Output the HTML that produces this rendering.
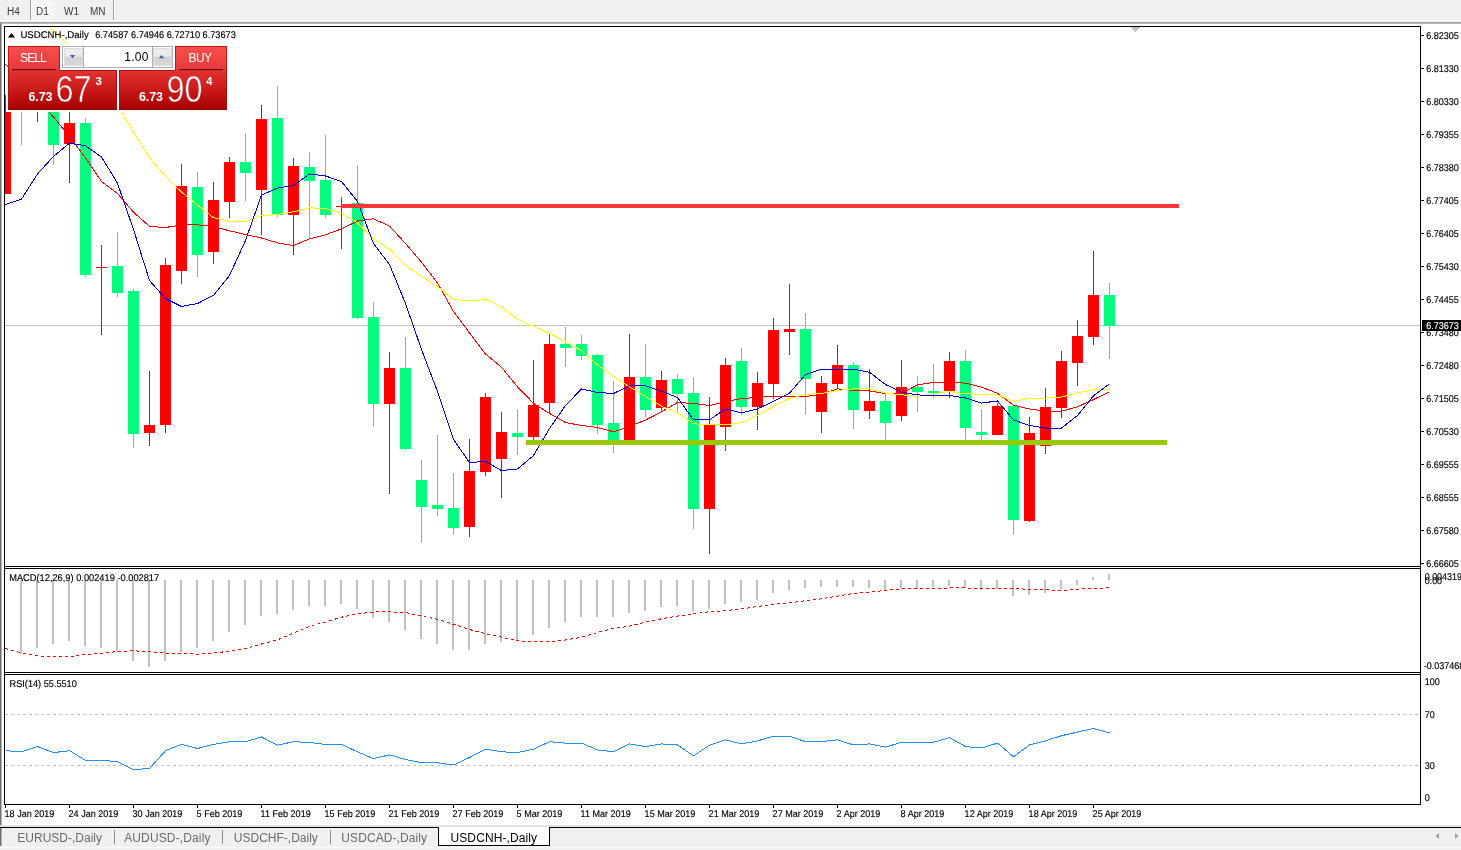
<!DOCTYPE html>
<html lang="en"><head><meta charset="utf-8"><title>USDCNH-,Daily</title>
<style>
html,body{margin:0;padding:0;background:#fff;}
body{width:1461px;height:850px;position:relative;overflow:hidden;font-family:"Liberation Sans",sans-serif;color:#000;}
.abs{position:absolute;}
#tb{left:0;top:0;width:1461px;height:22px;background:#f0f0f0;}
.tbt{position:absolute;top:5px;font-size:10px;color:#3a3a3a;line-height:13px;}
#chart{left:0;top:0;}
svg text{font-family:"Liberation Sans",sans-serif;}
.ax{font-size:9.8px;text-rendering:geometricPrecision;fill:#000;stroke:#000;stroke-width:0.15px;}
.tab{position:absolute;top:831px;font-size:12px;line-height:14px;color:#6a6a6a;white-space:nowrap;}
.sep{position:absolute;top:830px;width:1px;height:14px;background:#8c8c8c;}
/* one click panel */
#oc{left:8px;top:46px;width:219px;height:64px;background:#fff;}
.btn{position:absolute;background:linear-gradient(#f94e4e,#e53a3a);border:1px solid #c41414;border-bottom:none;box-sizing:border-box;color:#fff;font-size:12px;text-align:center;}
.big{position:absolute;top:24px;height:40px;background:linear-gradient(#e23232,#cc1c1c 45%,#b40808 85%,#aa0000);border:1px solid #b00c0c;border-top:none;border-bottom-color:#960000;box-sizing:border-box;color:#fff;}
.big span{position:absolute;white-space:nowrap;}
</style></head><body>

<div id="tb" class="abs">
<div class="abs" style="left:31px;top:0;width:24px;height:20px;background:#f0f0f0 conic-gradient(#fff 25%,#f0f0f0 0 50%,#fff 0 75%,#f0f0f0 0) 0 0/2px 2px;"></div>
<div class="abs" style="left:30px;top:0;width:1px;height:20px;background:#a0a0a0;"></div>
<div class="abs" style="left:113px;top:0;width:1px;height:22px;background:#a0a0a0;"></div>
<div class="abs" style="left:114px;top:0;width:1px;height:22px;background:#fff;"></div>
<div class="tbt" style="left:7px;">H4</div>
<div class="tbt" style="left:36px;">D1</div>
<div class="tbt" style="left:64px;">W1</div>
<div class="tbt" style="left:90px;">MN</div>
<div class="abs" style="left:0;top:20px;width:1461px;height:2px;background:#f6f6f6;"></div>
</div>
<div class="abs" style="left:0;top:22px;width:1461px;height:1px;background:#a0a0a0;"></div>
<div class="abs" style="left:0;top:23px;width:1461px;height:1px;background:#bcbcbc;"></div>
<div class="abs" style="left:0;top:23px;width:1px;height:803px;background:#6e6e6e;"></div>
<div class="abs" style="left:1px;top:23px;width:1px;height:803px;background:#b4b4b4;"></div>
<svg id="chart" class="abs" width="1461" height="850" viewBox="0 0 1461 850" shape-rendering="crispEdges">
<defs><clipPath id="cm"><rect x="5" y="27" width="1415" height="539"/></clipPath></defs>
<rect x="4" y="26" width="1417" height="1" fill="#000"/>
<rect x="4" y="26" width="1" height="779" fill="#000"/>
<rect x="1420" y="26" width="1" height="779" fill="#000"/>
<rect x="4" y="804" width="1417" height="1" fill="#000"/>
<rect x="4" y="566" width="1417" height="1" fill="#000"/>
<rect x="4" y="568" width="1417" height="1" fill="#000"/>
<rect x="4" y="672" width="1417" height="1" fill="#000"/>
<rect x="4" y="674" width="1417" height="1" fill="#000"/>
<rect x="5" y="325" width="1415" height="1" fill="#c0c0c0"/>
<g clip-path="url(#cm)">
<rect x="5" y="95" width="1" height="99" fill="#ff0000"/>
<rect x="0" y="112" width="11" height="82" fill="#ff0000"/>
<rect x="21" y="70" width="1" height="75" fill="#00ff7f"/>
<rect x="16" y="80" width="11" height="25" fill="#00ff7f"/>
<rect x="37" y="75" width="1" height="47" fill="#ff0000"/>
<rect x="32" y="85" width="11" height="23" fill="#ff0000"/>
<rect x="53" y="60" width="1" height="105" fill="#00ff7f"/>
<rect x="48" y="90" width="11" height="55" fill="#00ff7f"/>
<rect x="69" y="100" width="1" height="83" fill="#ff0000"/>
<rect x="64" y="123" width="11" height="21" fill="#ff0000"/>
<rect x="85" y="118" width="1" height="159" fill="#00ff7f"/>
<rect x="80" y="123" width="11" height="152" fill="#00ff7f"/>
<rect x="101" y="245" width="1" height="90" fill="#ff0000"/>
<rect x="96" y="267" width="11" height="1" fill="#ff0000"/>
<rect x="117" y="232" width="1" height="65" fill="#00ff7f"/>
<rect x="112" y="266" width="11" height="27" fill="#00ff7f"/>
<rect x="133" y="289" width="1" height="159" fill="#00ff7f"/>
<rect x="128" y="291" width="11" height="143" fill="#00ff7f"/>
<rect x="149" y="371" width="1" height="75" fill="#ff0000"/>
<rect x="144" y="425" width="11" height="8" fill="#ff0000"/>
<rect x="165" y="258" width="1" height="175" fill="#ff0000"/>
<rect x="160" y="265" width="11" height="160" fill="#ff0000"/>
<rect x="181" y="164" width="1" height="120" fill="#ff0000"/>
<rect x="176" y="186" width="11" height="85" fill="#ff0000"/>
<rect x="197" y="172" width="1" height="105" fill="#00ff7f"/>
<rect x="192" y="187" width="11" height="68" fill="#00ff7f"/>
<rect x="213" y="182" width="1" height="82" fill="#ff0000"/>
<rect x="208" y="200" width="11" height="52" fill="#ff0000"/>
<rect x="229" y="157" width="1" height="61" fill="#ff0000"/>
<rect x="224" y="162" width="11" height="40" fill="#ff0000"/>
<rect x="245" y="133" width="1" height="68" fill="#00ff7f"/>
<rect x="240" y="162" width="11" height="11" fill="#00ff7f"/>
<rect x="261" y="105" width="1" height="130" fill="#ff0000"/>
<rect x="256" y="119" width="11" height="71" fill="#ff0000"/>
<rect x="277" y="86" width="1" height="131" fill="#00ff7f"/>
<rect x="272" y="118" width="11" height="97" fill="#00ff7f"/>
<rect x="293" y="158" width="1" height="97" fill="#ff0000"/>
<rect x="288" y="166" width="11" height="49" fill="#ff0000"/>
<rect x="309" y="152" width="1" height="87" fill="#00ff7f"/>
<rect x="304" y="167" width="11" height="14" fill="#00ff7f"/>
<rect x="325" y="135" width="1" height="83" fill="#00ff7f"/>
<rect x="320" y="180" width="11" height="35" fill="#00ff7f"/>
<rect x="341" y="197" width="1" height="52" fill="#ff0000"/>
<rect x="336" y="206" width="11" height="1" fill="#ff0000"/>
<rect x="357" y="165" width="1" height="154" fill="#00ff7f"/>
<rect x="352" y="203" width="11" height="115" fill="#00ff7f"/>
<rect x="373" y="302" width="1" height="125" fill="#00ff7f"/>
<rect x="368" y="317" width="11" height="87" fill="#00ff7f"/>
<rect x="389" y="352" width="1" height="142" fill="#ff0000"/>
<rect x="384" y="368" width="11" height="36" fill="#ff0000"/>
<rect x="405" y="337" width="1" height="113" fill="#00ff7f"/>
<rect x="400" y="368" width="11" height="81" fill="#00ff7f"/>
<rect x="421" y="460" width="1" height="82" fill="#00ff7f"/>
<rect x="416" y="480" width="11" height="27" fill="#00ff7f"/>
<rect x="437" y="435" width="1" height="81" fill="#00ff7f"/>
<rect x="432" y="505" width="11" height="4" fill="#00ff7f"/>
<rect x="453" y="473" width="1" height="61" fill="#00ff7f"/>
<rect x="448" y="508" width="11" height="20" fill="#00ff7f"/>
<rect x="469" y="439" width="1" height="98" fill="#ff0000"/>
<rect x="464" y="471" width="11" height="56" fill="#ff0000"/>
<rect x="485" y="393" width="1" height="83" fill="#ff0000"/>
<rect x="480" y="397" width="11" height="75" fill="#ff0000"/>
<rect x="501" y="412" width="1" height="86" fill="#ff0000"/>
<rect x="496" y="432" width="11" height="27" fill="#ff0000"/>
<rect x="517" y="410" width="1" height="45" fill="#00ff7f"/>
<rect x="512" y="433" width="11" height="4" fill="#00ff7f"/>
<rect x="533" y="360" width="1" height="81" fill="#ff0000"/>
<rect x="528" y="405" width="11" height="32" fill="#ff0000"/>
<rect x="549" y="334" width="1" height="80" fill="#ff0000"/>
<rect x="544" y="344" width="11" height="59" fill="#ff0000"/>
<rect x="565" y="327" width="1" height="40" fill="#00ff7f"/>
<rect x="560" y="344" width="11" height="4" fill="#00ff7f"/>
<rect x="581" y="335" width="1" height="25" fill="#00ff7f"/>
<rect x="576" y="344" width="11" height="12" fill="#00ff7f"/>
<rect x="597" y="354" width="1" height="80" fill="#00ff7f"/>
<rect x="592" y="355" width="11" height="70" fill="#00ff7f"/>
<rect x="613" y="381" width="1" height="72" fill="#00ff7f"/>
<rect x="608" y="423" width="11" height="19" fill="#00ff7f"/>
<rect x="629" y="334" width="1" height="107" fill="#ff0000"/>
<rect x="624" y="377" width="11" height="64" fill="#ff0000"/>
<rect x="645" y="344" width="1" height="73" fill="#00ff7f"/>
<rect x="640" y="377" width="11" height="33" fill="#00ff7f"/>
<rect x="661" y="371" width="1" height="41" fill="#ff0000"/>
<rect x="656" y="380" width="11" height="28" fill="#ff0000"/>
<rect x="677" y="374" width="1" height="38" fill="#00ff7f"/>
<rect x="672" y="379" width="11" height="15" fill="#00ff7f"/>
<rect x="693" y="378" width="1" height="151" fill="#00ff7f"/>
<rect x="688" y="393" width="11" height="116" fill="#00ff7f"/>
<rect x="709" y="397" width="1" height="157" fill="#ff0000"/>
<rect x="704" y="424" width="11" height="85" fill="#ff0000"/>
<rect x="725" y="358" width="1" height="93" fill="#ff0000"/>
<rect x="720" y="365" width="11" height="62" fill="#ff0000"/>
<rect x="741" y="348" width="1" height="67" fill="#00ff7f"/>
<rect x="736" y="361" width="11" height="46" fill="#00ff7f"/>
<rect x="757" y="372" width="1" height="58" fill="#ff0000"/>
<rect x="752" y="383" width="11" height="24" fill="#ff0000"/>
<rect x="773" y="318" width="1" height="81" fill="#ff0000"/>
<rect x="768" y="330" width="11" height="54" fill="#ff0000"/>
<rect x="789" y="284" width="1" height="71" fill="#ff0000"/>
<rect x="784" y="329" width="11" height="3" fill="#ff0000"/>
<rect x="805" y="313" width="1" height="101" fill="#00ff7f"/>
<rect x="800" y="329" width="11" height="50" fill="#00ff7f"/>
<rect x="821" y="376" width="1" height="57" fill="#ff0000"/>
<rect x="816" y="383" width="11" height="29" fill="#ff0000"/>
<rect x="837" y="345" width="1" height="43" fill="#ff0000"/>
<rect x="832" y="365" width="11" height="19" fill="#ff0000"/>
<rect x="853" y="362" width="1" height="67" fill="#00ff7f"/>
<rect x="848" y="365" width="11" height="45" fill="#00ff7f"/>
<rect x="869" y="369" width="1" height="50" fill="#ff0000"/>
<rect x="864" y="401" width="11" height="10" fill="#ff0000"/>
<rect x="885" y="394" width="1" height="46" fill="#00ff7f"/>
<rect x="880" y="401" width="11" height="22" fill="#00ff7f"/>
<rect x="901" y="360" width="1" height="61" fill="#ff0000"/>
<rect x="896" y="387" width="11" height="29" fill="#ff0000"/>
<rect x="917" y="376" width="1" height="36" fill="#00ff7f"/>
<rect x="912" y="387" width="11" height="5" fill="#00ff7f"/>
<rect x="933" y="364" width="1" height="34" fill="#00ff7f"/>
<rect x="928" y="391" width="11" height="2" fill="#00ff7f"/>
<rect x="949" y="352" width="1" height="46" fill="#ff0000"/>
<rect x="944" y="361" width="11" height="30" fill="#ff0000"/>
<rect x="965" y="350" width="1" height="90" fill="#00ff7f"/>
<rect x="960" y="361" width="11" height="67" fill="#00ff7f"/>
<rect x="981" y="410" width="1" height="30" fill="#00ff7f"/>
<rect x="976" y="432" width="11" height="3" fill="#00ff7f"/>
<rect x="997" y="403" width="1" height="32" fill="#ff0000"/>
<rect x="992" y="406" width="11" height="29" fill="#ff0000"/>
<rect x="1013" y="406" width="1" height="128" fill="#00ff7f"/>
<rect x="1008" y="406" width="11" height="114" fill="#00ff7f"/>
<rect x="1029" y="417" width="1" height="105" fill="#ff0000"/>
<rect x="1024" y="433" width="11" height="88" fill="#ff0000"/>
<rect x="1045" y="388" width="1" height="66" fill="#ff0000"/>
<rect x="1040" y="407" width="11" height="39" fill="#ff0000"/>
<rect x="1061" y="351" width="1" height="67" fill="#ff0000"/>
<rect x="1056" y="361" width="11" height="47" fill="#ff0000"/>
<rect x="1077" y="320" width="1" height="66" fill="#ff0000"/>
<rect x="1072" y="336" width="11" height="27" fill="#ff0000"/>
<rect x="1093" y="251" width="1" height="94" fill="#ff0000"/>
<rect x="1088" y="295" width="11" height="42" fill="#ff0000"/>
<rect x="1109" y="283" width="1" height="76" fill="#00ff7f"/>
<rect x="1104" y="295" width="11" height="31" fill="#00ff7f"/>
<polyline points="5.5,64.5 21.5,81.5 37.5,99.5 53.5,117.0 69.5,136.5 85.5,157.9 101.5,181.5 117.5,193.5 133.5,212.2 149.5,226.5 165.5,227.5 181.5,224.9 197.5,224.9 213.5,226.5 229.5,230.8 245.5,234.5 261.5,238.0 277.5,242.9 293.5,245.5 309.5,238.9 325.5,234.8 341.5,228.9 357.5,221.0 373.5,218.8 389.5,226.1 405.5,243.5 421.5,262.2 437.5,283.0 453.5,311.5 469.5,333.0 485.5,354.0 501.5,367.2 517.5,386.9 533.5,403.3 549.5,413.5 565.5,422.5 581.5,425.5 597.5,427.5 613.5,431.8 629.5,426.3 645.5,420.1 661.5,411.8 677.5,402.5 693.5,403.5 709.5,405.5 725.5,401.9 741.5,398.5 757.5,397.5 773.5,396.0 789.5,396.0 805.5,396.5 821.5,394.3 837.5,388.8 853.5,390.5 869.5,391.0 885.5,393.5 901.5,393.5 917.5,384.8 933.5,382.5 949.5,382.0 965.5,383.2 981.5,387.1 997.5,393.2 1013.5,405.3 1029.5,409.0 1045.5,411.2 1061.5,411.2 1077.5,406.8 1093.5,399.5 1109.5,391.9" fill="none" stroke="#ff0000" stroke-width="1" />
<polyline points="37.5,14.5 53.5,30.5 69.5,46.5 85.5,66.5 101.5,86.5 117.5,106.3 133.5,132.3 149.5,157.9 165.5,176.7 181.5,192.1 197.5,205.2 213.5,217.7 229.5,221.5 245.5,221.5 261.5,215.9 277.5,214.4 293.5,211.8 309.5,207.8 325.5,208.5 341.5,213.4 357.5,222.8 373.5,239.2 389.5,249.1 405.5,265.5 421.5,276.5 437.5,286.7 453.5,299.5 469.5,301.0 485.5,299.5 501.5,307.1 517.5,319.2 533.5,326.4 549.5,333.3 565.5,342.0 581.5,350.7 597.5,365.0 613.5,376.4 629.5,386.9 645.5,396.5 661.5,406.3 677.5,412.9 693.5,423.8 709.5,424.9 725.5,424.9 741.5,422.7 757.5,415.1 773.5,406.3 789.5,398.5 805.5,394.3 821.5,393.5 837.5,390.5 853.5,388.8 869.5,388.8 885.5,393.2 901.5,394.7 917.5,396.5 933.5,393.7 949.5,391.5 965.5,393.7 981.5,394.3 997.5,394.8 1013.5,401.3 1029.5,398.1 1045.5,398.1 1061.5,397.0 1077.5,393.0 1093.5,389.7 1109.5,390.0" fill="none" stroke="#ffff00" stroke-width="1" />
<polyline points="5.5,204.5 21.5,199.1 37.5,173.9 53.5,156.4 69.5,143.2 85.5,145.8 101.5,157.0 117.5,183.3 133.5,229.5 149.5,280.5 165.5,298.5 181.5,306.5 197.5,303.5 213.5,295.3 229.5,275.5 245.5,240.5 261.5,195.1 277.5,188.1 293.5,185.5 309.5,174.0 325.5,176.0 341.5,181.5 357.5,201.5 373.5,243.5 389.5,264.5 405.5,303.5 421.5,349.5 437.5,391.5 453.5,439.5 469.5,462.5 485.5,461.5 501.5,470.5 517.5,469.0 533.5,455.5 549.5,428.5 565.5,405.5 581.5,389.0 597.5,392.5 613.5,393.5 629.5,385.8 645.5,385.9 661.5,391.0 677.5,397.5 693.5,419.9 709.5,419.9 725.5,408.9 741.5,412.9 757.5,408.9 773.5,401.3 789.5,393.2 805.5,374.5 821.5,369.1 837.5,369.1 853.5,369.1 869.5,372.3 885.5,384.5 901.5,392.1 917.5,394.9 933.5,395.5 949.5,395.5 965.5,398.0 981.5,403.1 997.5,400.9 1013.5,419.9 1029.5,425.5 1045.5,428.0 1061.5,428.0 1077.5,415.5 1093.5,395.8 1109.5,383.8" fill="none" stroke="#0000e6" stroke-width="1" />
<rect x="341" y="204" width="838" height="4" fill="#f93535"/>
<rect x="526" y="440" width="641" height="5" fill="#98c80a"/>
<polygon points="1131,27 1140,27 1135.5,32" fill="#c0c0c0"/>
</g>
<rect x="1421" y="35" width="3" height="1" fill="#000"/>
<text class="ax" xml:space="preserve" x="1426.2" y="39.1" textLength="32.6" lengthAdjust="spacingAndGlyphs">6.82305</text>
<rect x="1421" y="68" width="3" height="1" fill="#000"/>
<text class="ax" xml:space="preserve" x="1426.2" y="72.1" textLength="32.6" lengthAdjust="spacingAndGlyphs">6.81330</text>
<rect x="1421" y="101" width="3" height="1" fill="#000"/>
<text class="ax" xml:space="preserve" x="1426.2" y="105.1" textLength="32.6" lengthAdjust="spacingAndGlyphs">6.80330</text>
<rect x="1421" y="134" width="3" height="1" fill="#000"/>
<text class="ax" xml:space="preserve" x="1426.2" y="138.1" textLength="32.6" lengthAdjust="spacingAndGlyphs">6.79355</text>
<rect x="1421" y="167" width="3" height="1" fill="#000"/>
<text class="ax" xml:space="preserve" x="1426.2" y="171.1" textLength="32.6" lengthAdjust="spacingAndGlyphs">6.78380</text>
<rect x="1421" y="200" width="3" height="1" fill="#000"/>
<text class="ax" xml:space="preserve" x="1426.2" y="204.1" textLength="32.6" lengthAdjust="spacingAndGlyphs">6.77405</text>
<rect x="1421" y="233" width="3" height="1" fill="#000"/>
<text class="ax" xml:space="preserve" x="1426.2" y="237.1" textLength="32.6" lengthAdjust="spacingAndGlyphs">6.76405</text>
<rect x="1421" y="266" width="3" height="1" fill="#000"/>
<text class="ax" xml:space="preserve" x="1426.2" y="270.1" textLength="32.6" lengthAdjust="spacingAndGlyphs">6.75430</text>
<rect x="1421" y="299" width="3" height="1" fill="#000"/>
<text class="ax" xml:space="preserve" x="1426.2" y="303.1" textLength="32.6" lengthAdjust="spacingAndGlyphs">6.74455</text>
<rect x="1421" y="332" width="3" height="1" fill="#000"/>
<text class="ax" xml:space="preserve" x="1426.2" y="336.1" textLength="32.6" lengthAdjust="spacingAndGlyphs">6.73480</text>
<rect x="1421" y="365" width="3" height="1" fill="#000"/>
<text class="ax" xml:space="preserve" x="1426.2" y="369.1" textLength="32.6" lengthAdjust="spacingAndGlyphs">6.72480</text>
<rect x="1421" y="398" width="3" height="1" fill="#000"/>
<text class="ax" xml:space="preserve" x="1426.2" y="402.1" textLength="32.6" lengthAdjust="spacingAndGlyphs">6.71505</text>
<rect x="1421" y="431" width="3" height="1" fill="#000"/>
<text class="ax" xml:space="preserve" x="1426.2" y="435.1" textLength="32.6" lengthAdjust="spacingAndGlyphs">6.70530</text>
<rect x="1421" y="464" width="3" height="1" fill="#000"/>
<text class="ax" xml:space="preserve" x="1426.2" y="468.1" textLength="32.6" lengthAdjust="spacingAndGlyphs">6.69555</text>
<rect x="1421" y="497" width="3" height="1" fill="#000"/>
<text class="ax" xml:space="preserve" x="1426.2" y="501.1" textLength="32.6" lengthAdjust="spacingAndGlyphs">6.68555</text>
<rect x="1421" y="530" width="3" height="1" fill="#000"/>
<text class="ax" xml:space="preserve" x="1426.2" y="534.1" textLength="32.6" lengthAdjust="spacingAndGlyphs">6.67580</text>
<rect x="1421" y="563" width="3" height="1" fill="#000"/>
<text class="ax" xml:space="preserve" x="1426.2" y="567.1" textLength="32.6" lengthAdjust="spacingAndGlyphs">6.66605</text>
<rect x="1422" y="320" width="39" height="11" fill="#000"/>
<text class="ax" xml:space="preserve" x="1426.2" y="329.1" textLength="32.6" lengthAdjust="spacingAndGlyphs" style="fill:#fff;stroke:#fff;">6.73673</text>
<polygon points="8,37.5 15,37.5 11.5,33" fill="#000" shape-rendering="auto"/>
<text class="ax" xml:space="preserve" x="20.4" y="38" textLength="68.3" lengthAdjust="spacingAndGlyphs">USDCNH-,Daily</text>
<text class="ax" xml:space="preserve" x="95.2" y="38" textLength="140.6" lengthAdjust="spacingAndGlyphs">6.74587 6.74946 6.72710 6.73673</text>
<rect x="20" y="580" width="2" height="74" fill="#c0c0c0"/>
<rect x="36" y="580" width="2" height="68" fill="#c0c0c0"/>
<rect x="52" y="580" width="2" height="64" fill="#c0c0c0"/>
<rect x="68" y="580" width="2" height="61" fill="#c0c0c0"/>
<rect x="84" y="580" width="2" height="66" fill="#c0c0c0"/>
<rect x="100" y="580" width="2" height="68" fill="#c0c0c0"/>
<rect x="116" y="580" width="2" height="72" fill="#c0c0c0"/>
<rect x="132" y="580" width="2" height="81" fill="#c0c0c0"/>
<rect x="148" y="580" width="2" height="87" fill="#c0c0c0"/>
<rect x="164" y="580" width="2" height="81" fill="#c0c0c0"/>
<rect x="180" y="580" width="2" height="72" fill="#c0c0c0"/>
<rect x="196" y="580" width="2" height="68" fill="#c0c0c0"/>
<rect x="212" y="580" width="2" height="61" fill="#c0c0c0"/>
<rect x="228" y="580" width="2" height="52" fill="#c0c0c0"/>
<rect x="244" y="580" width="2" height="45" fill="#c0c0c0"/>
<rect x="260" y="580" width="2" height="36" fill="#c0c0c0"/>
<rect x="276" y="580" width="2" height="34" fill="#c0c0c0"/>
<rect x="292" y="580" width="2" height="30" fill="#c0c0c0"/>
<rect x="308" y="580" width="2" height="26" fill="#c0c0c0"/>
<rect x="324" y="580" width="2" height="26" fill="#c0c0c0"/>
<rect x="340" y="580" width="2" height="24" fill="#c0c0c0"/>
<rect x="356" y="580" width="2" height="29" fill="#c0c0c0"/>
<rect x="372" y="580" width="2" height="38" fill="#c0c0c0"/>
<rect x="388" y="580" width="2" height="42" fill="#c0c0c0"/>
<rect x="404" y="580" width="2" height="50" fill="#c0c0c0"/>
<rect x="420" y="580" width="2" height="59" fill="#c0c0c0"/>
<rect x="436" y="580" width="2" height="64" fill="#c0c0c0"/>
<rect x="452" y="580" width="2" height="70" fill="#c0c0c0"/>
<rect x="468" y="580" width="2" height="70" fill="#c0c0c0"/>
<rect x="484" y="580" width="2" height="64" fill="#c0c0c0"/>
<rect x="500" y="580" width="2" height="62" fill="#c0c0c0"/>
<rect x="516" y="580" width="2" height="60" fill="#c0c0c0"/>
<rect x="532" y="580" width="2" height="55" fill="#c0c0c0"/>
<rect x="548" y="580" width="2" height="48" fill="#c0c0c0"/>
<rect x="564" y="580" width="2" height="42" fill="#c0c0c0"/>
<rect x="580" y="580" width="2" height="37" fill="#c0c0c0"/>
<rect x="596" y="580" width="2" height="37" fill="#c0c0c0"/>
<rect x="612" y="580" width="2" height="37" fill="#c0c0c0"/>
<rect x="628" y="580" width="2" height="33" fill="#c0c0c0"/>
<rect x="644" y="580" width="2" height="31" fill="#c0c0c0"/>
<rect x="660" y="580" width="2" height="27" fill="#c0c0c0"/>
<rect x="676" y="580" width="2" height="26" fill="#c0c0c0"/>
<rect x="692" y="580" width="2" height="31" fill="#c0c0c0"/>
<rect x="708" y="580" width="2" height="29" fill="#c0c0c0"/>
<rect x="724" y="580" width="2" height="24" fill="#c0c0c0"/>
<rect x="740" y="580" width="2" height="22" fill="#c0c0c0"/>
<rect x="756" y="580" width="2" height="20" fill="#c0c0c0"/>
<rect x="772" y="580" width="2" height="13" fill="#c0c0c0"/>
<rect x="788" y="580" width="2" height="10" fill="#c0c0c0"/>
<rect x="804" y="580" width="2" height="8" fill="#c0c0c0"/>
<rect x="820" y="580" width="2" height="7" fill="#c0c0c0"/>
<rect x="836" y="580" width="2" height="7" fill="#c0c0c0"/>
<rect x="852" y="580" width="2" height="7" fill="#c0c0c0"/>
<rect x="868" y="580" width="2" height="8" fill="#c0c0c0"/>
<rect x="884" y="580" width="2" height="10" fill="#c0c0c0"/>
<rect x="900" y="580" width="2" height="8" fill="#c0c0c0"/>
<rect x="916" y="580" width="2" height="8" fill="#c0c0c0"/>
<rect x="932" y="580" width="2" height="7" fill="#c0c0c0"/>
<rect x="948" y="580" width="2" height="6" fill="#c0c0c0"/>
<rect x="964" y="580" width="2" height="7" fill="#c0c0c0"/>
<rect x="980" y="580" width="2" height="10" fill="#c0c0c0"/>
<rect x="996" y="580" width="2" height="8" fill="#c0c0c0"/>
<rect x="1012" y="580" width="2" height="16" fill="#c0c0c0"/>
<rect x="1028" y="580" width="2" height="15" fill="#c0c0c0"/>
<rect x="1044" y="580" width="2" height="13" fill="#c0c0c0"/>
<rect x="1060" y="580" width="2" height="9" fill="#c0c0c0"/>
<rect x="1076" y="580" width="2" height="5" fill="#c0c0c0"/>
<rect x="1092" y="577" width="2" height="3" fill="#c0c0c0"/>
<rect x="1108" y="574" width="2" height="6" fill="#c0c0c0"/>
<polyline points="5.5,648.5 21.5,653.0 37.5,655.8 53.5,656.9 69.5,656.9 85.5,654.4 101.5,653.5 117.5,651.4 133.5,650.8 149.5,651.7 165.5,653.0 181.5,653.0 197.5,654.1 213.5,652.8 229.5,651.4 245.5,648.7 261.5,644.0 277.5,639.9 293.5,633.1 309.5,626.2 325.5,622.1 341.5,617.2 357.5,613.9 373.5,612.0 389.5,611.8 405.5,612.5 421.5,616.1 437.5,619.4 453.5,624.3 469.5,629.5 485.5,633.6 501.5,637.2 517.5,640.7 533.5,641.8 549.5,641.8 565.5,639.9 581.5,637.2 597.5,632.5 613.5,628.4 629.5,626.2 645.5,622.1 661.5,618.8 677.5,616.1 693.5,613.9 709.5,611.7 725.5,610.6 741.5,609.0 757.5,606.5 773.5,604.3 789.5,602.9 805.5,600.7 821.5,598.8 837.5,596.1 853.5,593.4 869.5,592.0 885.5,590.5 901.5,588.7 917.5,588.7 933.5,588.7 949.5,587.9 965.5,587.9 981.5,588.7 997.5,588.7 1013.5,588.7 1029.5,589.2 1045.5,589.8 1061.5,590.5 1077.5,589.2 1093.5,588.4 1109.5,587.9" fill="none" stroke="#ff0000" stroke-width="1" stroke-dasharray="3 3"/>
<text class="ax" xml:space="preserve" x="9.2" y="580.8" textLength="150" lengthAdjust="spacingAndGlyphs">MACD(12,26,9) 0.002419 -0.002817</text>
<text class="ax" xml:space="preserve" x="1424.7" y="579.6" textLength="37.3" lengthAdjust="spacingAndGlyphs">0.004319</text>
<text class="ax" xml:space="preserve" x="1424.7" y="584.3" textLength="17.4" lengthAdjust="spacingAndGlyphs">0.00</text>
<text class="ax" xml:space="preserve" x="1423.8" y="669.3" textLength="40.5" lengthAdjust="spacingAndGlyphs">-0.037468</text>
<line x1="5" y1="714.5" x2="1420" y2="714.5" stroke="#c0c0c0" stroke-dasharray="3 3"/>
<line x1="5" y1="765.5" x2="1420" y2="765.5" stroke="#c0c0c0" stroke-dasharray="3 3"/>
<polyline points="5.5,750.7 21.5,751.8 37.5,746.6 53.5,752.6 69.5,750.7 85.5,760.3 101.5,760.3 117.5,761.7 133.5,769.6 149.5,768.5 165.5,750.7 181.5,744.4 197.5,748.5 213.5,744.4 229.5,741.7 245.5,741.7 261.5,737.0 277.5,745.2 293.5,741.7 309.5,742.5 325.5,744.4 341.5,744.4 357.5,751.8 373.5,758.7 389.5,754.8 405.5,759.5 421.5,762.8 437.5,762.8 453.5,765.0 469.5,757.5 485.5,749.1 501.5,751.8 517.5,752.6 533.5,749.1 549.5,741.7 565.5,743.1 581.5,743.1 597.5,749.9 613.5,751.8 629.5,743.9 645.5,746.6 661.5,743.9 677.5,745.0 693.5,755.9 709.5,745.2 725.5,739.8 741.5,743.9 757.5,740.9 773.5,736.2 789.5,736.2 805.5,741.7 821.5,741.7 837.5,739.8 853.5,745.0 869.5,743.9 885.5,747.2 901.5,742.2 917.5,742.2 933.5,742.2 949.5,737.6 965.5,746.6 981.5,748.0 997.5,743.1 1013.5,756.7 1029.5,745.0 1045.5,740.9 1061.5,735.7 1077.5,732.1 1093.5,728.5 1109.5,732.9" fill="none" stroke="#1e90ff" stroke-width="1" />
<text class="ax" xml:space="preserve" x="9.6" y="687.2" textLength="67.2" lengthAdjust="spacingAndGlyphs">RSI(14) 55.5510</text>
<text class="ax" xml:space="preserve" x="1424.7" y="685.4000000000001" textLength="15.0" lengthAdjust="spacingAndGlyphs">100</text>
<text class="ax" xml:space="preserve" x="1424.7" y="718.1" textLength="10.0" lengthAdjust="spacingAndGlyphs">70</text>
<text class="ax" xml:space="preserve" x="1424.7" y="768.9000000000001" textLength="10.0" lengthAdjust="spacingAndGlyphs">30</text>
<text class="ax" xml:space="preserve" x="1424.7" y="801.3000000000001" textLength="5.0" lengthAdjust="spacingAndGlyphs">0</text>
<rect x="5" y="805" width="1" height="3" fill="#000"/>
<text class="ax" xml:space="preserve" x="4.6" y="817.3" textLength="49.8" lengthAdjust="spacingAndGlyphs">18 Jan 2019</text>
<rect x="69" y="805" width="1" height="3" fill="#000"/>
<text class="ax" xml:space="preserve" x="68.6" y="817.3" textLength="49.8" lengthAdjust="spacingAndGlyphs">24 Jan 2019</text>
<rect x="133" y="805" width="1" height="3" fill="#000"/>
<text class="ax" xml:space="preserve" x="132.6" y="817.3" textLength="49.8" lengthAdjust="spacingAndGlyphs">30 Jan 2019</text>
<rect x="197" y="805" width="1" height="3" fill="#000"/>
<text class="ax" xml:space="preserve" x="196.6" y="817.3" textLength="45.8" lengthAdjust="spacingAndGlyphs">5 Feb 2019</text>
<rect x="261" y="805" width="1" height="3" fill="#000"/>
<text class="ax" xml:space="preserve" x="260.6" y="817.3" textLength="50.1" lengthAdjust="spacingAndGlyphs">11 Feb 2019</text>
<rect x="325" y="805" width="1" height="3" fill="#000"/>
<text class="ax" xml:space="preserve" x="324.6" y="817.3" textLength="50.8" lengthAdjust="spacingAndGlyphs">15 Feb 2019</text>
<rect x="389" y="805" width="1" height="3" fill="#000"/>
<text class="ax" xml:space="preserve" x="388.6" y="817.3" textLength="50.8" lengthAdjust="spacingAndGlyphs">21 Feb 2019</text>
<rect x="453" y="805" width="1" height="3" fill="#000"/>
<text class="ax" xml:space="preserve" x="452.6" y="817.3" textLength="50.8" lengthAdjust="spacingAndGlyphs">27 Feb 2019</text>
<rect x="517" y="805" width="1" height="3" fill="#000"/>
<text class="ax" xml:space="preserve" x="516.6" y="817.3" textLength="45.8" lengthAdjust="spacingAndGlyphs">5 Mar 2019</text>
<rect x="581" y="805" width="1" height="3" fill="#000"/>
<text class="ax" xml:space="preserve" x="580.6" y="817.3" textLength="50.1" lengthAdjust="spacingAndGlyphs">11 Mar 2019</text>
<rect x="645" y="805" width="1" height="3" fill="#000"/>
<text class="ax" xml:space="preserve" x="644.6" y="817.3" textLength="50.8" lengthAdjust="spacingAndGlyphs">15 Mar 2019</text>
<rect x="709" y="805" width="1" height="3" fill="#000"/>
<text class="ax" xml:space="preserve" x="708.6" y="817.3" textLength="50.8" lengthAdjust="spacingAndGlyphs">21 Mar 2019</text>
<rect x="773" y="805" width="1" height="3" fill="#000"/>
<text class="ax" xml:space="preserve" x="772.6" y="817.3" textLength="50.8" lengthAdjust="spacingAndGlyphs">27 Mar 2019</text>
<rect x="837" y="805" width="1" height="3" fill="#000"/>
<text class="ax" xml:space="preserve" x="836.6" y="817.3" textLength="43.8" lengthAdjust="spacingAndGlyphs">2 Apr 2019</text>
<rect x="901" y="805" width="1" height="3" fill="#000"/>
<text class="ax" xml:space="preserve" x="900.6" y="817.3" textLength="43.8" lengthAdjust="spacingAndGlyphs">8 Apr 2019</text>
<rect x="965" y="805" width="1" height="3" fill="#000"/>
<text class="ax" xml:space="preserve" x="964.6" y="817.3" textLength="48.8" lengthAdjust="spacingAndGlyphs">12 Apr 2019</text>
<rect x="1029" y="805" width="1" height="3" fill="#000"/>
<text class="ax" xml:space="preserve" x="1028.6" y="817.3" textLength="48.8" lengthAdjust="spacingAndGlyphs">18 Apr 2019</text>
<rect x="1093" y="805" width="1" height="3" fill="#000"/>
<text class="ax" xml:space="preserve" x="1092.6" y="817.3" textLength="48.8" lengthAdjust="spacingAndGlyphs">25 Apr 2019</text>
</svg>
<div class="abs" style="left:8px;top:44px;width:219px;height:68px;background:#fff;"></div>
<div id="oc" class="abs">
<div class="btn" style="left:0;top:0;width:52px;height:24px;"><span style="position:absolute;left:-1px;width:50px;top:4px;line-height:14px;letter-spacing:-0.9px;">SELL</span></div>
<div class="btn" style="left:167px;top:0;width:52px;height:24px;"><span style="position:absolute;left:0;width:48px;top:4px;line-height:14px;letter-spacing:-0.6px;">BUY</span></div>
<div class="abs" style="left:54px;top:0;width:111px;height:22px;background:#fff;border:1px solid #a9adb8;box-sizing:border-box;"></div>
<div class="abs" style="left:56px;top:2px;width:19px;height:18px;background:linear-gradient(#ececec 45%,#d2d2d2 50%,#d8d8d8);border:1px solid #dcdcdc;box-sizing:border-box;"></div>
<div class="abs" style="left:75px;top:1px;width:1px;height:20px;background:#a9adb8;"></div>
<div class="abs" style="left:145px;top:2px;width:19px;height:18px;background:linear-gradient(#ececec 45%,#d2d2d2 50%,#d8d8d8);border:1px solid #dcdcdc;box-sizing:border-box;"></div>
<div class="abs" style="left:144px;top:1px;width:1px;height:20px;background:#a9adb8;"></div>
<svg class="abs" style="left:55px;top:1px" width="109" height="20"><polygon points="6.7,8 12.3,8 9.5,11.3" fill="#4a5cb4"/><polygon points="95.7,11.3 101.3,11.3 98.5,8" fill="#4a5cb4"/></svg>
<div class="abs" style="left:76px;top:2px;width:64.5px;height:20px;line-height:19px;font-size:12px;text-align:right;color:#000;letter-spacing:0.2px;">1.00</div>
<div class="big" style="left:0px;width:109px;"><span style="left:19.5px;top:20px;font-size:12.5px;font-weight:bold;line-height:14px;letter-spacing:-0.1px;">6.73</span><span style="left:86.5px;top:5px;font-size:11.5px;font-weight:bold;line-height:12px;">3</span></div>
<div class="big" style="left:111px;width:108px;"><span style="left:19.0px;top:20px;font-size:12.5px;font-weight:bold;line-height:14px;letter-spacing:-0.1px;">6.73</span><span style="left:86.0px;top:5px;font-size:11.5px;font-weight:bold;line-height:12px;">4</span></div>
<svg class="abs" style="left:0;top:24px" width="219" height="40" viewBox="0 0 219 40"><defs><linearGradient id="bg" gradientUnits="userSpaceOnUse" x1="0" y1="1" x2="0" y2="39"><stop offset="0" stop-color="#e23232"/><stop offset="0.45" stop-color="#cc1c1c"/><stop offset="0.85" stop-color="#b40808"/><stop offset="1" stop-color="#aa0000"/></linearGradient></defs>
<text x="47.6" y="31.7" textLength="36" lengthAdjust="spacingAndGlyphs" style="font-size:37.5px;fill:#fff;stroke:url(#bg);stroke-width:0.6px;">67</text>
<text x="158.4" y="31.7" textLength="36" lengthAdjust="spacingAndGlyphs" style="font-size:37.5px;fill:#fff;stroke:url(#bg);stroke-width:0.6px;">90</text>
</svg>
<div class="abs" style="left:52px;top:24px;width:57px;height:1px;background:#b00c0c;"></div>
<div class="abs" style="left:111px;top:24px;width:56px;height:1px;background:#b00c0c;"></div>
<div class="abs" style="left:4px;top:23px;width:44px;height:1px;background:#7e0404;"></div>
<div class="abs" style="left:4px;top:24px;width:44px;height:1px;background:#c22a2a;"></div>
<div class="abs" style="left:171px;top:23px;width:44px;height:1px;background:#7e0404;"></div>
<div class="abs" style="left:171px;top:24px;width:44px;height:1px;background:#c22a2a;"></div>
</div>
<div class="abs" style="left:0;top:825px;width:1461px;height:2px;background:#e4e4e4;"></div>
<div class="abs" style="left:0;top:827px;width:1461px;height:1px;background:#000;"></div>
<div class="abs" style="left:0;top:828px;width:1461px;height:19px;background:#f0f0f0;"></div>
<div class="abs" style="left:0;top:847px;width:1461px;height:1px;background:#fafafa;"></div>
<div class="abs" style="left:0;top:848px;width:1461px;height:2px;background:#f0f0f0;"></div>
<div class="abs" style="left:0;top:828px;width:1px;height:18px;background:#6e6e6e;"></div>
<div class="abs" style="left:1px;top:828px;width:1px;height:18px;background:#b4b4b4;"></div>
<div class="abs" style="left:439px;top:827px;width:110px;height:18px;background:#fff;"></div>
<div class="abs" style="left:438px;top:827px;width:112px;height:19px;border:1px solid #000;border-top:none;box-sizing:border-box;"></div>
<div class="tab" style="left:17.3px;letter-spacing:0px;">EURUSD-,Daily</div>
<div class="tab" style="left:124.2px;letter-spacing:0.13px;">AUDUSD-,Daily</div>
<div class="tab" style="left:233.8px;letter-spacing:0px;">USDCHF-,Daily</div>
<div class="tab" style="left:341.3px;letter-spacing:0.09px;">USDCAD-,Daily</div>
<div class="tab" style="left:450.5px;color:#000;letter-spacing:0.1px;">USDCNH-,Daily</div>
<div class="sep" style="left:114px;"></div>
<div class="sep" style="left:222px;"></div>
<div class="sep" style="left:330px;"></div>
<svg class="abs" style="left:1430px;top:830px" width="31" height="12"><polygon points="9,3 9,9 5.5,6" fill="#a0a0a0"/><polygon points="25,3 25,9 28.5,6" fill="#a0a0a0"/></svg>
</body></html>
